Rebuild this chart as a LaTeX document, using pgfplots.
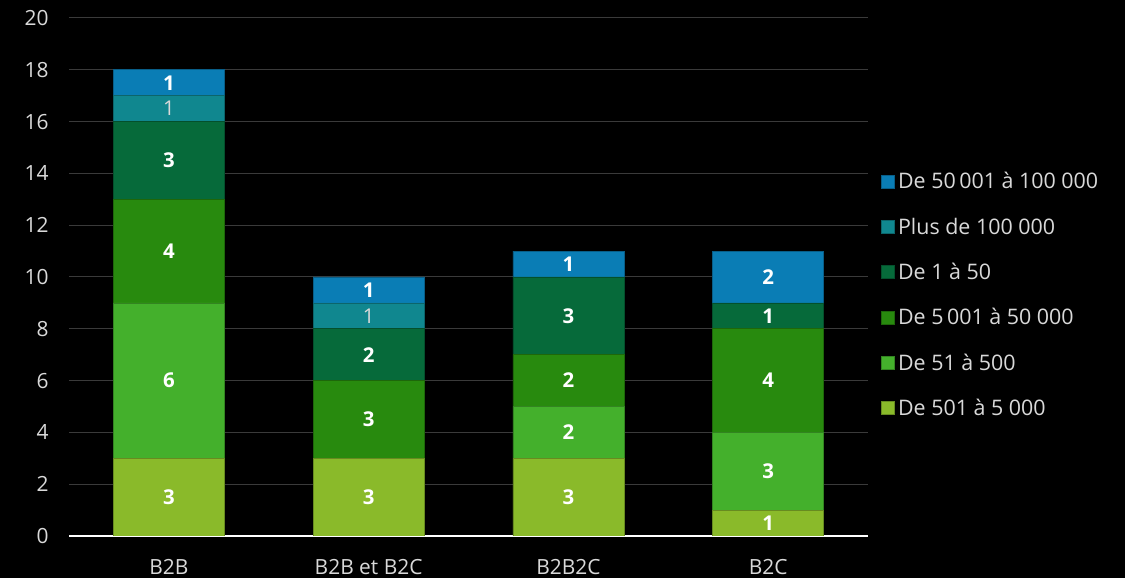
\documentclass[border=0pt]{standalone}
\usepackage{fontspec}
\setmainfont{Open Sans}
\usepackage{pgfplots}
\pgfplotsset{compat=1.18}
\definecolor{cA}{HTML}{8ABA2A}
\definecolor{cB}{HTML}{44B02C}
\definecolor{cC}{HTML}{288A0E}
\definecolor{cD}{HTML}{066A3A}
\definecolor{cE}{HTML}{10878F}
\definecolor{cF}{HTML}{0A7DB5}
\definecolor{gridc}{HTML}{3A3A3A}
\definecolor{txtc}{HTML}{D9D9D9}
\pgfplotsset{
  common/.style={
    at={(69bp,42bp)}, anchor=south west,
    width=799bp, height=518bp, scale only axis,
    xmin=-0.5, xmax=3.5, ymin=0, ymax=20,
  },
  lbl/.style={only marks, mark=none, nodes near coords, point meta=explicit symbolic,
    nodes near coords style={anchor=center, text=white, font=\fontsize{20.5}{24}\selectfont\bfseries}},
  lblthin/.style={only marks, mark=none, nodes near coords, point meta=explicit symbolic,
    nodes near coords style={anchor=center, text=txtc, font=\fontsize{20.5}{24}\selectfont}},
}
\begin{document}
\begin{tikzpicture}
\fill[black] (0,0) rectangle (1125bp,578bp);
\begin{axis}[common,
  ybar stacked, bar width=0.555,
  xtick={0,1,2,3}, xticklabels={B2B, B2B et B2C, B2B2C, B2C},
  ytick={0,2,...,20},
  /pgf/number format/assume math mode=true,
  ymajorgrids, grid style={draw=gridc, line width=1bp},
  axis x line*=bottom, axis y line*=left,
  x axis line style={draw=white, line width=1.5bp},
  y axis line style={draw=none},
  major tick length=0pt,
  tick label style={text=txtc, font=\fontsize{21}{24}\selectfont},
  yticklabel style={xshift=-17bp},
  xticklabel style={yshift=-20bp},
  reverse legend,
  legend cell align=left,
  legend style={at={(1.016,0.709)}, anchor=north west, draw=none, fill=none,
    text=txtc, font=\fontsize{21.5}{24}\selectfont, row sep=20.5bp,
    inner sep=0pt, nodes={inner sep=3.5bp}},
  legend image code/.code={\fill[#1] (0bp,-6.5bp) rectangle (13bp,6.5bp);},
]
\addplot[fill=cA, draw=cA!75!black, line width=0.6bp] coordinates {(0,3) (1,3) (2,3) (3,1)};
\addlegendentry{De 501 à 5 000}
\addplot[fill=cB, draw=cB!75!black, line width=0.6bp] coordinates {(0,6) (1,0) (2,2) (3,3)};
\addlegendentry{De 51 à 500}
\addplot[fill=cC, draw=cC!75!black, line width=0.6bp] coordinates {(0,4) (1,3) (2,2) (3,4)};
\addlegendentry{De 5\,001 à 50 000}
\addplot[fill=cD, draw=cD!75!black, line width=0.6bp] coordinates {(0,3) (1,2) (2,3) (3,1)};
\addlegendentry{De 1 à 50}
\addplot[fill=cE, draw=cE!75!black, line width=0.6bp] coordinates {(0,1) (1,1) (2,0) (3,0)};
\addlegendentry{Plus de 100 000}
\addplot[fill=cF, draw=cF!75!black, line width=0.6bp] coordinates {(0,1) (1,1) (2,1) (3,2)};
\addlegendentry{De 50\,001 à 100 000}
\end{axis}
\begin{axis}[common, hide axis, clip=false]
\addplot[lbl] coordinates {(0,1.5)[3] (1,1.5)[3] (2,1.5)[3] (3,0.5)[1]};
\addplot[lbl] coordinates {(0,6)[6] (2,4)[2] (3,2.5)[3]};
\addplot[lbl] coordinates {(0,11)[4] (1,4.5)[3] (2,6)[2] (3,6)[4]};
\addplot[lbl] coordinates {(0,14.5)[3] (1,7)[2] (2,8.5)[3] (3,8.5)[1]};
\addplot[lblthin] coordinates {(0,16.5)[1] (1,8.5)[1]};
\addplot[lbl] coordinates {(0,17.5)[1] (1,9.5)[1] (2,10.5)[1] (3,10)[2]};
\end{axis}
\end{tikzpicture}
\end{document}
